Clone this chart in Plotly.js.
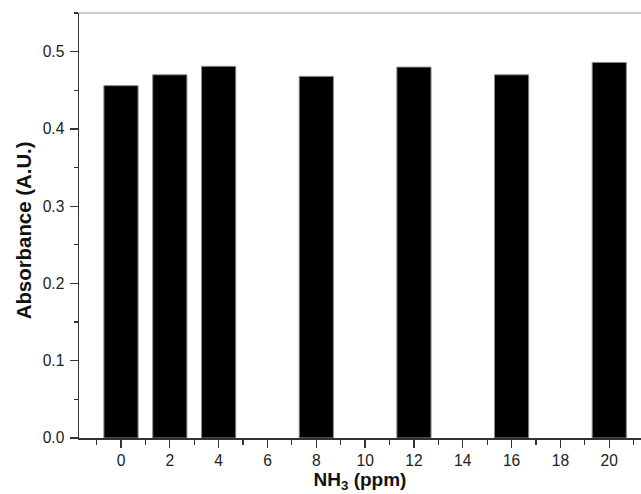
<!DOCTYPE html>
<html>
<head>
<meta charset="utf-8">
<script src="https://cdn.plot.ly/plotly-3.0.1.min.js"></script>
<style>html,body{margin:0;padding:0;background:#fff;}#chart{width:641px;height:494px;}</style>
</head>
<body>
<div id="chart"></div>
<script>
// NH3 concentrations (ppm)
const concentrations = [0, 2, 4, 8, 12, 16, 20];
// Absorbance values (A.U.)
const absorbance = [0.456, 0.470, 0.481, 0.468, 0.480, 0.470, 0.486];

const trace = {
  type: 'bar',
  x: concentrations,
  y: absorbance,
  width: 1.4,
  marker: {color: '#000000', line: {color: '#8a8a8a', width: 1}},
  hoverinfo: 'x+y'
};

const fam = 'Liberation Sans, Arial, sans-serif';
const axisFont = {family: fam, size: 15.6, color: '#222'};

const layout = {
  width: 641,
  height: 494,
  margin: {l: 79, r: 0, t: 13, b: 56},
  paper_bgcolor: '#ffffff',
  plot_bgcolor: '#ffffff',
  showlegend: false,
  bargap: 0,
  xaxis: {
    range: [-1.72, 21.3],
    tick0: 0,
    dtick: 2,
    ticks: 'outside',
    ticklen: 8,
    tickwidth: 1.3,
    tickcolor: '#333',
    showline: true,
    linecolor: '#333',
    linewidth: 1.5,
    showgrid: false,
    zeroline: false,
    tickfont: axisFont,
    minor: {dtick: 1, ticks: 'outside', ticklen: 5, tickwidth: 1.2, tickcolor: '#333', showgrid: false},
    title: {text: '<b>NH<sub>3</sub> (ppm)</b>', font: {family: fam, size: 19, color: '#111'}, standoff: 0}
  },
  yaxis: {
    range: [0, 0.55],
    tick0: 0,
    dtick: 0.1,
    tickformat: '.1f',
    ticks: 'outside',
    ticklen: 8,
    tickwidth: 1.3,
    tickcolor: '#333',
    ticklabelstandoff: 2,
    showline: true,
    linecolor: '#333',
    linewidth: 1.5,
    showgrid: false,
    zeroline: false,
    tickfont: axisFont,
    minor: {dtick: 0.05, ticks: 'outside', ticklen: 4, tickwidth: 1.2, tickcolor: '#333', showgrid: false}
  },
  annotations: [{
    text: '<b>Absorbance (A.U.)</b>',
    xref: 'paper', yref: 'paper',
    x: -0.1, y: 0.4875,
    xanchor: 'center', yanchor: 'middle',
    textangle: -90,
    showarrow: false,
    font: {family: fam, size: 20.4, color: '#111'}
  }],
  shapes: [{
    type: 'line', xref: 'paper', yref: 'paper',
    x0: 0, x1: 1, y0: 1, y1: 1,
    line: {color: '#999', width: 1.2}
  }]
};

layout.annotations[0].x = (23.5 - 79) / (641 - 79);

Plotly.newPlot('chart', [trace], layout, {displayModeBar: false, staticPlot: true});
</script>
</body>
</html>
